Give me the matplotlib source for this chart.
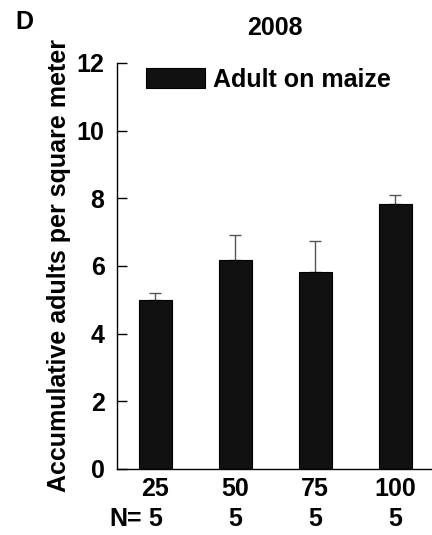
import numpy as np
import matplotlib
matplotlib.use('Agg')
import matplotlib.pyplot as plt

plt.rcParams['font.family'] = ['Liberation Sans', 'DejaVu Sans']
plt.rcParams['font.weight'] = 'bold'

densities = ['25', '50', '75', '100']
n_counts = ['5', '5', '5', '5']
adults = [5.0, 6.17, 5.81, 7.84]
err_up = [0.21, 0.76, 0.93, 0.27]

fig = plt.figure(figsize=(4.32, 5.35), dpi=100)
ax = fig.add_axes([0.271, 0.1234, 0.729, 0.7589])

x = np.arange(len(densities))
ax.bar(x, adults, width=0.41, color='#111111', edgecolor='black', linewidth=0.8,
       label='Adult on maize', zorder=3)
ax.errorbar(x, adults, yerr=[np.zeros(len(err_up)), err_up], fmt='none',
            ecolor='#555555', elinewidth=1.0, capsize=4, capthick=1.0, zorder=2)

ax.set_xlim(-0.48, 3.46)
ax.set_ylim(0, 12)
ax.set_yticks([0, 2, 4, 6, 8, 10, 12])
ax.set_xticks(x)
ax.set_xticklabels(densities, fontsize=18, fontweight='bold')
ax.tick_params(axis='x', length=0, pad=6)
ax.tick_params(axis='y', direction='in', length=7, width=1.0, labelsize=18, pad=9)
for lab in ax.get_yticklabels():
    lab.set_fontweight('bold')

# sample size row under the density labels
xt = ax.get_xaxis_transform()
for xi, n in zip(x, n_counts):
    ax.text(xi, -0.123, n, transform=xt, ha='center', va='center', fontsize=18,
            fontweight='bold', clip_on=False)
ax.text(-0.17, -0.123, 'N=', transform=xt, ha='right', va='center', fontsize=18,
        fontweight='bold', clip_on=False)

ax.spines['top'].set_visible(False)
ax.spines['right'].set_visible(False)
ax.spines['left'].set_linewidth(1.0)
ax.spines['bottom'].set_linewidth(1.0)
ax.spines['bottom'].set_zorder(4)

ax.set_ylabel('Accumulative adults per square meter', fontsize=18, fontweight='bold', labelpad=4)
ax.set_title('2008', fontsize=18, fontweight='bold', pad=20)
ax.legend(loc='upper left', bbox_to_anchor=(0.045, 1.025), frameon=False, fontsize=18,
          handlelength=2.36, handleheight=0.84, handletextpad=0.3, borderaxespad=0.2)
fig.text(0.035, 0.958, 'D', fontsize=18, fontweight='bold', va='center')

fig.savefig('out.png', dpi=100)
